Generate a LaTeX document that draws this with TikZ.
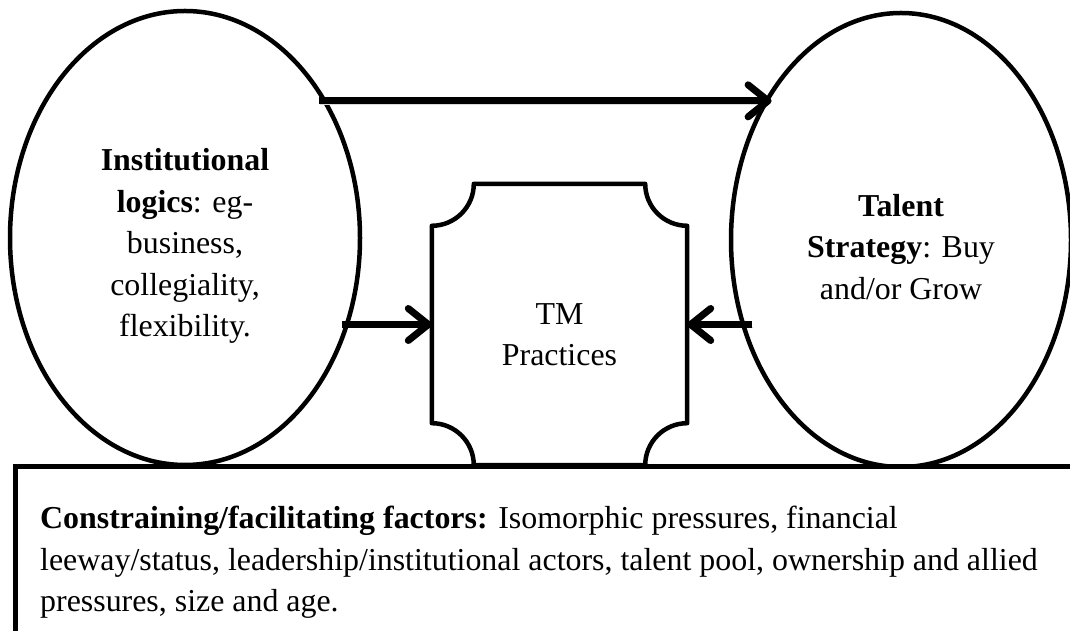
\documentclass[tikz,border=0pt]{standalone}
\usepackage{fontspec}
\setmainfont{Liberation Serif}
\usetikzlibrary{arrows.meta,shapes.geometric,calc}

\tikzset{
  oval/.style={draw, ellipse, line width=4.5pt, minimum width=350pt, minimum height=454pt},
  txt/.style={align=center, inner sep=0pt, font=\fontsize{31.9}{41.5}\selectfont},
  arr/.style={line width=7pt, -{Straight Barb[length=20pt,width=32pt,round]},
    preaction={draw=black!15, transform canvas={shift={(1pt,-3pt)}}}},
}

\begin{document}
\begin{tikzpicture}[x=1pt,y=1pt]
\useasboundingbox (0,0) rectangle (1070,631);
\node[oval] (lft) at (185,393) {};
\node[oval, minimum width=340pt] (rgt) at (901,391) {};
\node[txt] (lfttxt) at ([yshift=-8pt]lft.center) {\textbf{Institutional}\\\textbf{logics}: eg-\\business,\\collegiality,\\flexibility.};
\node[txt] (rgttxt) at ([yshift=-7pt]rgt.center) {\textbf{Talent}\\\textbf{Strategy}: Buy\\and/or Grow};
% practices box with cut corners
\node[minimum width=255pt, minimum height=281pt, inner sep=0pt] (tm) at (559.5,306.5) {};
\draw[line width=4.5pt, line join=round]
  ($(tm.north west)+(0,-42)$) arc[start angle=-90, end angle=0, radius=42pt]
  -- ($(tm.north east)+(-42,0)$) arc[start angle=180, end angle=270, radius=42pt]
  -- ($(tm.south east)+(0,42)$) arc[start angle=90, end angle=180, radius=42pt]
  -- ($(tm.south west)+(42,0)$) arc[start angle=0, end angle=90, radius=42pt]
  -- cycle;
\node[txt] (tmtxt) at ([yshift=-10pt]tm.center) {TM\\Practices};
\draw[arr, shorten <=-8pt, shorten >=-10pt] (lft.44) -- (lft.44 -| rgt.136);
\draw[arr, shorten <=-8pt] (lft.-27 |- tm.west) -- (tm.west);
\draw[arr, shorten <=-12pt] (rgt.-153 |- tm.east) -- (tm.east);
% factors frame, runs off the page at right and bottom
\node[draw, line width=5pt, fill=white, inner sep=0pt, outer sep=0pt, anchor=north west,
  minimum width=1100pt, minimum height=200pt] (fac) at (15,164) {};
\node[txt, align=left, anchor=north west] (factxt) at ([xshift=25pt, yshift=-39pt]fac.north west)
  {\textbf{Constraining/facilitating factors:} Isomorphic pressures, financial\\
   leeway/status, leadership/institutional actors, talent pool, ownership and allied\\
   pressures, size and age.};
\end{tikzpicture}
\end{document}
